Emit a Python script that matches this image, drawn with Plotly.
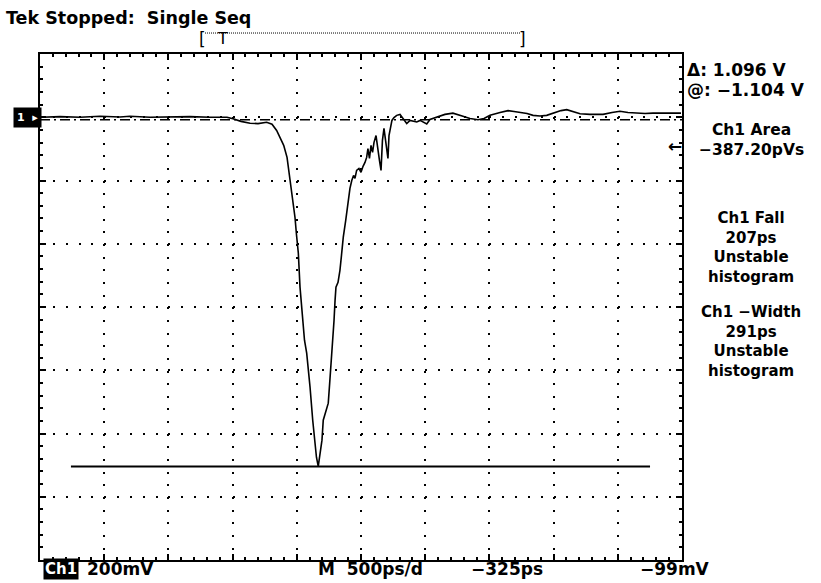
import plotly.graph_objects as go

# ---- data (time in ns, voltage in V) ----
time_ns = [0.008, 0.156, 0.312, 0.467, 0.623, 0.700, 0.857, 1.012, 1.168, 1.324, 1.456,
           1.503, 1.565, 1.636, 1.698, 1.765, 1.807, 1.843, 1.869, 1.898, 1.924, 1.947,
           1.970, 1.986, 1.998, 2.012, 2.025, 2.046, 2.060, 2.077, 2.091, 2.103, 2.124,
           2.142, 2.153, 2.167, 2.181, 2.196, 2.206, 2.227, 2.245, 2.255, 2.264, 2.278,
           2.290, 2.298, 2.305, 2.321, 2.336, 2.348, 2.362, 2.381, 2.399, 2.414, 2.428,
           2.442, 2.453, 2.466, 2.484, 2.500, 2.516, 2.531, 2.544, 2.554, 2.566, 2.578,
           2.590, 2.601, 2.617, 2.628, 2.644, 2.656, 2.667, 2.679, 2.691, 2.702, 2.710,
           2.718, 2.730, 2.741, 2.757, 2.778, 2.804, 2.827, 2.856, 2.882, 2.905, 2.934,
           2.960, 2.983, 3.012, 3.037, 3.090, 3.154, 3.216, 3.255, 3.294, 3.349, 3.411,
           3.458, 3.505, 3.583, 3.645, 3.692, 3.738, 3.793, 3.840, 3.894, 3.946, 4.011,
           4.058, 4.102, 4.151, 4.206, 4.283, 4.385, 4.455, 4.517, 4.579, 4.647, 4.712,
           4.774, 4.868, 4.992]
volts = [0.000, 0.002, 0.000, 0.003, 0.001, 0.003, 0.000, 0.001, 0.002, 0.000, 0.000,
         -0.005, -0.013, -0.019, -0.020, -0.016, -0.022, -0.042, -0.064, -0.089, -0.127, -0.200,
         -0.263, -0.317, -0.373, -0.430, -0.537, -0.642, -0.705, -0.746, -0.800, -0.853, -0.958,
         -1.042, -1.075, -1.104, -1.062, -1.021, -0.958, -0.926, -0.904, -0.847, -0.800, -0.721,
         -0.642, -0.579, -0.537, -0.522, -0.484, -0.437, -0.379, -0.326, -0.263, -0.225, -0.200,
         -0.184, -0.193, -0.168, -0.162, -0.174, -0.155, -0.143, -0.127, -0.099, -0.130, -0.089,
         -0.111, -0.080, -0.058, -0.099, -0.137, -0.168, -0.073, -0.035, -0.073, -0.105, -0.130,
         -0.058, -0.026, -0.010, -0.001, 0.006, 0.009, -0.004, -0.020, -0.010, -0.013, -0.015,
         -0.010, -0.016, -0.021, -0.007, 0.000, 0.009, 0.013, 0.009, 0.003, -0.004, -0.008,
         -0.004, 0.006, 0.015, 0.021, 0.018, 0.016, 0.012, 0.006, 0.004, 0.006, 0.015,
         0.021, 0.024, 0.017, 0.011, 0.009, 0.009, 0.015, 0.019, 0.015, 0.013, 0.012,
         0.013, 0.012, 0.013]

cursor_level_a = -0.008   # dashed cursor
cursor_level_b = -1.104   # solid cursor
cursor_b_span = [0.241, 4.751]

x_range = [0, 5]          # 10 div x 500 ps
y_range = [-1.4, 0.2]     # 8 div x 200 mV

FONT = "DejaVu Sans"

fig = go.Figure()
fig.add_trace(go.Scatter(x=[x_range[0], x_range[1]], y=[cursor_level_a, cursor_level_a],
                         mode="lines", line=dict(color="black", width=1.5, dash="10px,4px,2px,4px"),
                         hoverinfo="skip", showlegend=False))
fig.add_trace(go.Scatter(x=cursor_b_span, y=[cursor_level_b, cursor_level_b],
                         mode="lines", line=dict(color="black", width=2),
                         hoverinfo="skip", showlegend=False))
fig.add_trace(go.Scatter(x=time_ns, y=volts, mode="lines",
                         line=dict(color="black", width=1.6), showlegend=False))

L, R, T, B = 40, 139, 53.5, 23
W, H = 821, 583
pw, ph = W - L - R, H - T - B

def px(xp):
    return (xp - L) / pw

def py(yp):
    return (H - B - yp) / ph

fig.update_xaxes(range=x_range, dtick=0.5, showgrid=True, gridcolor="black", gridwidth=2,
                 griddash="2px,10.66px", zeroline=False, showticklabels=False,
                 showline=True, linecolor="black", linewidth=2, mirror="ticks",
                 ticks="inside", ticklen=6, tickcolor="black", tickwidth=1.5,
                 minor=dict(dtick=0.1, ticks="inside", ticklen=3, tickcolor="black", showgrid=False))
fig.update_yaxes(range=y_range, dtick=0.2, showgrid=True, gridcolor="black", gridwidth=2,
                 griddash="2px,10.84px", zeroline=False, showticklabels=False,
                 showline=True, linecolor="black", linewidth=2, mirror="ticks",
                 ticks="inside", ticklen=6, tickcolor="black", tickwidth=1.5,
                 minor=dict(dtick=0.04, ticks="inside", ticklen=3, tickcolor="black", showgrid=False))

ann = []
def text(x, y, s, size=16, anchor="left", color="black", bg=None, yref="paper", pad=1):
    d = dict(x=x, y=y, xref="paper", yref=yref, text=s, showarrow=False, xanchor=anchor,
             yanchor="middle", font=dict(family=FONT, size=size, color=color))
    if bg:
        d["bgcolor"] = bg
        d["borderpad"] = pad
    ann.append(d)

# header
text(px(4), py(17), "<b>Tek Stopped:  Single Seq</b>", size=17.5)
# record window bracket
text(px(197), py(38), "[", size=17)
text(px(215), py(38), "T", size=16)
text(px(517), py(38), "]", size=17)
# right readouts
text(px(685), py(70), "<b>Δ: 1.096 V</b>", size=17)
text(px(685), py(90), "<b>@: −1.104 V</b>", size=17)
text(px(751), py(139.5), "<b>Ch1 Area<br>−387.20pVs</b>", anchor="center", size=15.5)
text(px(751), py(247), "<b>Ch1 Fall<br>207ps<br>Unstable<br>histogram</b>", anchor="center", size=15)
text(px(751), py(341), "<b>Ch1 −Width<br>291ps<br>Unstable<br>histogram</b>", anchor="center", size=15)
text(px(666), py(146), "<b>←</b>", size=17)
# channel marker
text(px(13), 0, "<b>1  ▸</b>", size=11, color="white", bg="black", yref="y", pad=3)
# bottom status line
text(px(43), py(569), "<b>Ch1</b>", size=15, color="white", bg="black")
text(px(85), py(569), "<b>200mV</b>", size=17)
text(px(316), py(569), "<b>M  500ps/d</b>", size=17)
text(px(469), py(569), "<b>−325ps</b>", size=17)
text(px(638), py(569), "<b>−99mV</b>", size=17)

shapes = [dict(type="line", xref="paper", yref="paper", x0=px(205), x1=px(520),
               y0=py(32.5), y1=py(32.5), line=dict(color="black", width=1, dash="1px,1px"))]

fig.update_layout(width=W, height=H, margin=dict(l=L, r=R, t=T, b=B),
                  paper_bgcolor="white", plot_bgcolor="white",
                  annotations=ann, shapes=shapes, showlegend=False)

fig.write_html("out.html", config={"displayModeBar": False},
               post_script="document.body.style.margin='0';document.body.style.overflow='hidden';")
